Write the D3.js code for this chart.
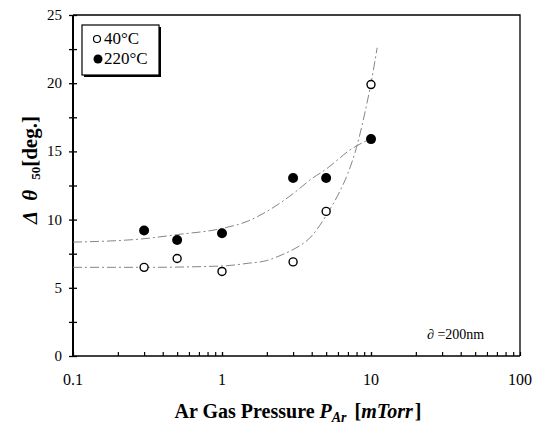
<!DOCTYPE html>
<html>
<head>
<meta charset="utf-8">
<script src="https://cdn.jsdelivr.net/npm/d3@7"></script>
<style>
  body { margin: 0; background: #fff; }
  svg { display: block; }
  text { font-family: "Liberation Serif", "Times New Roman", serif; fill: #000; }
</style>
</head>
<body>
<svg id="chart" width="544" height="434"></svg>
<script>
// ---- data ----
const pressures = [0.3, 0.5, 1, 3, 5, 10];
const theta40 = [6.5, 7.15, 6.2, 6.9, 10.6, 19.9];
const theta220 = [9.2, 8.5, 9.0, 13.05, 13.05, 15.9];

// fitted guide curves
const fitX40 = [0.1, 0.3, 1, 1.5, 2, 2.5, 3, 4, 5, 6, 7, 8, 9, 10, 11];
const fitY40 = [6.5, 6.5, 6.6, 6.8, 7.0, 7.4, 7.8, 8.8, 10.3, 11.8, 13.4, 15.3, 17.6, 20.0, 22.6];
const fitX220 = [0.1, 0.3, 0.5, 1, 1.5, 2, 3, 4, 5, 6, 7, 8, 9, 10];
const fitY220 = [8.35, 8.6, 8.9, 9.35, 9.9, 10.6, 11.9, 13.0, 13.7, 14.4, 15.0, 15.4, 15.7, 15.9];

const xTickValues = [0.1, 1, 10, 100];
const xTickLabels = ["0.1", "1", "10", "100"];
const yTickValues = [0, 5, 10, 15, 20, 25];
const yTickLabels = ["0", "5", "10", "15", "20", "25"];
const seriesNames = ["40\u00b0C", "220\u00b0C"];

// ---- layout ----
const L = 73, R = 520, T = 15, B = 356;
const svg = d3.select("#chart");
const x = d3.scaleLog().domain([0.1, 100]).range([L, R]);
const y = d3.scaleLinear().domain([0, 25]).range([B, T]);

// frame (top and right)
svg.append("path")
  .attr("d", `M${L},${T}H${R}V${B}`)
  .attr("fill", "none").attr("stroke", "#000").attr("stroke-width", 1.3);

// x axis: ticks inward
const minorX = [];
for (let d = 0.1; d < 100; d *= 10) for (let k = 1; k <= 10; k++) minorX.push(+(d * k).toPrecision(3));
const xAxis = d3.axisBottom(x).tickValues(minorX).tickSize(-4).tickFormat("");
const gx = svg.append("g").attr("transform", `translate(0,${B})`).call(xAxis);
gx.select(".domain").attr("stroke-width", 1.6).attr("d", `M${L},0H${R}`);
gx.selectAll(".tick line").attr("stroke-width", 1.2);

svg.append("g").selectAll("text").data(xTickValues).join("text")
  .attr("x", d => x(d)).attr("y", 385)
  .attr("text-anchor", "middle").attr("font-size", 16)
  .text((d, i) => xTickLabels[i]);

// y axis: ticks crossing
const yMinor = d3.range(0, 25.01, 2.5);
const gy = svg.append("g").attr("transform", `translate(${L},0)`)
  .call(d3.axisLeft(y).tickValues(yMinor).tickSize(4).tickFormat(""));
gy.select(".domain").attr("stroke-width", 2).attr("d", `M0,${B}V${T}`);
gy.selectAll(".tick line").attr("x1", 4).attr("x2", -4).attr("stroke-width", 1.3);

svg.append("g").selectAll("text").data(yTickValues).join("text")
  .attr("x", 62).attr("y", d => y(d) + 5)
  .attr("text-anchor", "end").attr("font-size", 15)
  .text((d, i) => yTickLabels[i]);

// guide curves
const line = d3.line().x(d => x(d[0])).y(d => y(d[1])).curve(d3.curveMonotoneX);
svg.append("path").datum(fitX40.map((v, i) => [v, fitY40[i]]))
  .attr("d", line).attr("fill", "none").attr("stroke", "#777")
  .attr("stroke-width", 0.9).attr("stroke-dasharray", "9,3,2,3");
svg.append("path").datum(fitX220.map((v, i) => [v, fitY220[i]]))
  .attr("d", line).attr("fill", "none").attr("stroke", "#777")
  .attr("stroke-width", 0.9).attr("stroke-dasharray", "9,3,2,3");

// points
svg.append("g").selectAll("circle").data(pressures).join("circle")
  .attr("cx", d => x(d)).attr("cy", (d, i) => y(theta40[i])).attr("r", 4)
  .attr("fill", "#fff").attr("stroke", "#000").attr("stroke-width", 1.4);
svg.append("g").selectAll("circle").data(pressures).join("circle")
  .attr("cx", d => x(d)).attr("cy", (d, i) => y(theta220[i])).attr("r", 5)
  .attr("fill", "#000");

// legend
const lg = svg.append("g");
lg.append("rect").attr("x", 84).attr("y", 27).attr("width", 77).attr("height", 50).attr("fill", "#000");
lg.append("rect").attr("x", 82).attr("y", 25).attr("width", 77).attr("height", 50)
  .attr("fill", "#fff").attr("stroke", "#000").attr("stroke-width", 1.2);
lg.append("circle").attr("cx", 97).attr("cy", 39).attr("r", 3.5)
  .attr("fill", "#fff").attr("stroke", "#000").attr("stroke-width", 1.2);
lg.append("circle").attr("cx", 98).attr("cy", 59).attr("r", 4.5).attr("fill", "#000");
lg.append("text").attr("x", 104).attr("y", 44).attr("font-size", 17).text(seriesNames[0]);
lg.append("text").attr("x", 104).attr("y", 64).attr("font-size", 17).text(seriesNames[1]);

// annotation
const an = svg.append("text").attr("x", 427).attr("y", 339).attr("font-size", 14);
an.append("tspan").attr("font-style", "italic").text("\u2202");
an.append("tspan").text(" =200nm");

// x title
const xt = svg.append("text").attr("x", 298).attr("y", 418).attr("text-anchor", "middle")
  .attr("font-size", 20).attr("font-weight", "bold");
xt.append("tspan").text("Ar Gas Pressure ");
xt.append("tspan").attr("font-style", "italic").text("P");
xt.append("tspan").attr("font-style", "italic").attr("font-size", 14).attr("dy", 4).text("Ar");
xt.append("tspan").attr("dy", -4).attr("dx", 8).text("[");
xt.append("tspan").attr("font-style", "italic").text("mTorr");
xt.append("tspan").attr("dx", 2).text("]");

// y title
const yt = svg.append("text").attr("transform", "translate(37,170) rotate(-90)")
  .attr("text-anchor", "middle").attr("font-size", 21).attr("font-weight", "bold");
yt.append("tspan").attr("font-style", "italic").text("\u0394");
yt.append("tspan").attr("font-style", "italic").attr("dx", 10).text("\u03b8");
yt.append("tspan").attr("font-size", 13).attr("dx", 10).attr("dy", 3).text("50");
yt.append("tspan").attr("dy", -3).text("[deg.]");
</script>
</body>
</html>
